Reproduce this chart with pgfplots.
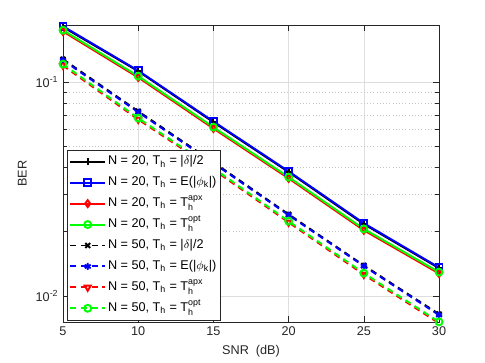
\documentclass[border=0pt]{standalone}
\usepackage{pgfplots}
\pgfplotsset{compat=1.18}
\usepackage{amsmath}
\usepackage{fontspec}
\setmainfont{Liberation Sans}
\definecolor{axgray}{rgb}{0.15,0.15,0.15}
\definecolor{mgreen}{rgb}{0,1,0}

\begin{document}
\begin{tikzpicture}
\pgfplotsset{
    ln/.style={line width=1.45pt, mark size=2.6pt},
    dsh/.style={line width=1.45pt, mark size=2.6pt, dash pattern=on 4.5pt off 3.5pt},
}
\begin{axis}[
    scale only axis,
    width=282pt, height=222.75pt,
    ymode=log,
    xmin=5, xmax=30, ymin=0.00756, ymax=0.185,
    xtick={5,10,15,20,25,30},
    ytick={0.01,0.1},
    yticklabels={10\textsuperscript{-2},10\textsuperscript{-1}},
    /pgf/number format/assume math mode=true,
    font=\fontsize{9.5}{11}\selectfont,
    tick label style={font=\fontsize{9.5}{11}\selectfont, color=axgray},
    label style={color=axgray},
    xlabel={SNR\ \ (dB)},
    ylabel={BER},
    axis line style={axgray},
    tick style={axgray, thin},
    xmajorgrids, ymajorgrids, yminorgrids,
    major grid style={black!13, thin},
    minor grid style={black!22, dotted, thin},
    legend cell align=left,
    legend style={at={(0.011,0.006)}, anchor=south west,
        draw=axgray, fill=white, font=\fontsize{9.5}{11}\selectfont,
        row sep=1.2pt, inner sep=1.5pt,
        nodes={inner sep=1.5pt, text height=8pt, text depth=3.5pt}},
    legend image code/.code={
        \draw[mark repeat=2, mark phase=2, #1]
            plot coordinates {(0pt,0pt) (13pt,0pt) (26pt,0pt)};},
]
\coordinate (bl) at (rel axis cs:-0.1676,-0.138);
\coordinate (tr) at (rel axis cs:1.1223,1.0842);

% N = 20
\addplot[ln, black, mark=+, mark options={solid}] coordinates {
  (5,0.1810) (10,0.1125) (15,0.0650) (20,0.0380) (25,0.0217) (30,0.0135)};
\addlegendentry{N = 20, T$_{\text{h}}$ = |$\delta$|/2}
\addplot[ln, blue, mark=square, mark options={solid}] coordinates {
  (5,0.1825) (10,0.1132) (15,0.0655) (20,0.0383) (25,0.0219) (30,0.0136)};
\addlegendentry{N = 20, T$_{\text{h}}$ = E(|$\phi_{\text{k}}$|)}
\addplot[ln, red, mark=diamond, mark options={solid}] coordinates {
  (5,0.1725) (10,0.1052) (15,0.0607) (20,0.0355) (25,0.0203) (30,0.01275)};
\addlegendentry{N = 20, T$_{\text{h}}$ = T$^{\text{apx}}_{\text{h}}$}
\addplot[ln, mgreen, mark=o, mark options={solid}] coordinates {
  (5,0.1750) (10,0.1067) (15,0.0616) (20,0.0360) (25,0.0206) (30,0.01294)};
\addlegendentry{N = 20, T$_{\text{h}}$ = T$^{\text{opt}}_{\text{h}}$}

% N = 50
\addplot[dsh, black, mark=x, mark options={solid}] coordinates {
  (5,0.1280) (10,0.0731) (15,0.0422) (20,0.0241) (25,0.0139) (30,0.00823)};
\addlegendentry{N = 50, T$_{\text{h}}$ = |$\delta$|/2}
\addplot[dsh, blue, mark=asterisk, mark options={solid}] coordinates {
  (5,0.1267) (10,0.0724) (15,0.0418) (20,0.0239) (25,0.0138) (30,0.00815)};
\addlegendentry{N = 50, T$_{\text{h}}$ = E(|$\phi_{\text{k}}$|)}
\addplot[dsh, red, mark=triangle, mark options={solid, rotate=180}] coordinates {
  (5,0.1196) (10,0.0669) (15,0.0390) (20,0.0221) (25,0.0126) (30,0.00746)};
\addlegendentry{N = 50, T$_{\text{h}}$ = T$^{\text{apx}}_{\text{h}}$}
\addplot[dsh, mgreen, mark=o, mark options={solid}] coordinates {
  (5,0.1214) (10,0.0679) (15,0.0396) (20,0.0224) (25,0.0128) (30,0.00757)};
\addlegendentry{N = 50, T$_{\text{h}}$ = T$^{\text{opt}}_{\text{h}}$}
\end{axis}
\path[use as bounding box] (bl) rectangle (tr);
\end{tikzpicture}
\end{document}
